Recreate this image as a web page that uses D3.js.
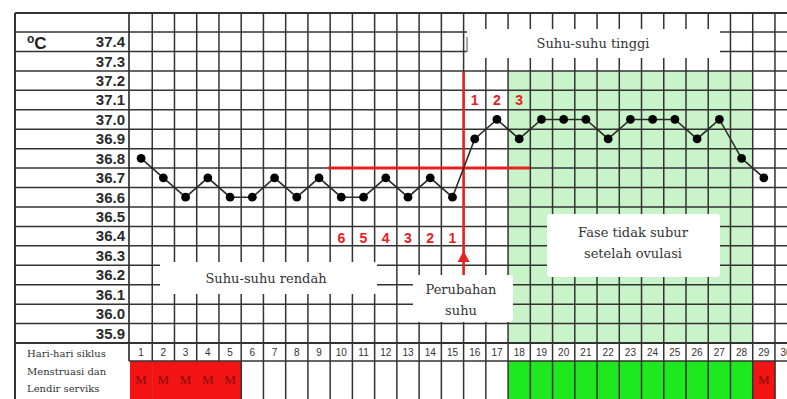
<!DOCTYPE html>
<html><head><meta charset="utf-8">
<script src="https://cdn.jsdelivr.net/npm/d3@7/dist/d3.min.js"></script>
<style>html,body{margin:0;padding:0;background:#fff;overflow:hidden}</style>
</head><body>
<svg id="c" width="787" height="399"></svg>
<script>
// ---- data ----
const days = [1,2,3,4,5,6,7,8,9,10,11,12,13,14,15,16,17,18,19,20,21,22,23,24,25,26,27,28,29,30];
const temps = [36.8,36.7,36.6,36.7,36.6,36.6,36.7,36.6,36.7,36.6,36.6,36.7,36.6,36.7,36.6,
               36.9,37.0,36.9,37.0,37.0,37.0,36.9,37.0,37.0,37.0,36.9,37.0,36.8,36.7];
const tempTicks = ["37.4","37.3","37.2","37.1","37.0","36.9","36.8","36.7","36.6","36.5","36.4","36.3","36.2","36.1","36.0","35.9"];
const mensDays = [1,2,3,4,5,29];
const infertileDays = [18,19,20,21,22,23,24,25,26,27,28];
const riseLabels = [{day:16,t:"1"},{day:17,t:"2"},{day:18,t:"3"}];
const lowLabels = [{day:10,t:"6"},{day:11,t:"5"},{day:12,t:"4"},{day:13,t:"3"},{day:14,t:"2"},{day:15,t:"1"}];
const rowLabels = ["Hari-hari siklus","Menstruasi dan","Lendir serviks"];

// ---- layout ----
const svg = d3.select("#c");
const colW = 22.24, x0 = 130;
const x = d3.scaleLinear().domain([0.5, 30.5]).range([x0, x0 + 30*colW]);
const yTop = 32, yBot = 343;
const y = d3.scaleLinear().domain([37.45, 35.85]).range([yTop, yBot]);
const frameL = 15, frameT = 13, labR = 129;
const dayRowB = 361, W = 787, H = 399;
const gridC = "#333";

// light green phase
svg.append("rect").attr("x", x(17.5)).attr("y", y(37.25)).attr("width", x(28.5)-x(17.5)).attr("height", y(35.85)-y(37.25)).attr("fill", "#c9f3c9");

// menstruation / infertile boxes
svg.selectAll("rect.m").data(mensDays).join("rect").attr("class","m")
  .attr("x", d=>x(d-0.5)).attr("y", dayRowB).attr("width", colW+0.5).attr("height", H-dayRowB).attr("fill","#f21414");
svg.selectAll("rect.g").data(infertileDays).join("rect").attr("class","g")
  .attr("x", d=>x(d-0.5)).attr("y", dayRowB).attr("width", colW).attr("height", H-dayRowB).attr("fill","#1ee81e");

const g = svg.append("g").attr("stroke", gridC).attr("stroke-width", 1.5).attr("fill","none");
// horizontal grid lines (row boundaries)
const bounds = tempTicks.map(t=>+t+0.05).concat([35.85]);
g.selectAll("line.h").data(bounds).join("line")
  .attr("x1", frameL).attr("x2", W).attr("y1", d=>y(d)).attr("y2", d=>y(d))
  .attr("stroke-width", (d,i)=> i===bounds.length-1 ? 2 : 1.5);
// top border
g.append("line").attr("x1", frameL).attr("x2", W).attr("y1", frameT).attr("y2", frameT).attr("stroke-width", 2);
// left border & label divider
g.append("line").attr("x1", frameL).attr("x2", frameL).attr("y1", frameT).attr("y2", H).attr("stroke-width", 2);
g.append("line").attr("x1", labR).attr("x2", labR).attr("y1", frameT).attr("y2", dayRowB).attr("stroke-width", 1.7);
// vertical column lines (no dividers inside the continuous red menstruation block)
const colB = days.map(d=>d+0.5);
g.selectAll("line.v").data(colB).join("line")
  .attr("x1", d=>x(d)).attr("x2", d=>x(d)).attr("y1", frameT)
  .attr("y2", d=> (d < 5) ? dayRowB : H);
// line below day numbers
g.append("line").attr("x1", labR).attr("x2", W).attr("y1", dayRowB).attr("y2", dayRowB);

// white annotation boxes
const boxes = [
  {x1:467, y1:29, x2:720, y2:58},
  {x1:160, y1:262, x2:377, y2:294},
  {x1:413, y1:275, x2:513, y2:322},
  {x1:547, y1:214, x2:720, y2:277}
];
svg.selectAll("rect.box").data(boxes).join("rect").attr("class","box")
  .attr("x", d=>d.x1).attr("y", d=>d.y1).attr("width", d=>d.x2-d.x1).attr("height", d=>d.y2-d.y1)
  .attr("fill","#fff").attr("rx", 3);
svg.append("line").attr("x1",467).attr("x2",467).attr("y1",37).attr("y2",52).attr("stroke","#888").attr("stroke-width",1.5);

// red cross lines
const red = "#e8201e";
svg.append("line").attr("x1", 328).attr("x2", 530).attr("y1", y(36.75)).attr("y2", y(36.75)).attr("stroke", red).attr("stroke-width", 3);
svg.append("line").attr("x1", x(15.5)).attr("x2", x(15.5)).attr("y1", y(37.25)+1).attr("y2", 275).attr("stroke", red).attr("stroke-width", 2.5);
svg.append("path").attr("d", `M${x(15.5)},251 L${x(15.5)-6},262 L${x(15.5)+6},262 Z`).attr("fill", red);

// temperature line and points
const pts = temps.map((t,i)=>({day:days[i], t}));
svg.append("path").datum(pts)
  .attr("d", d3.line().x(d=>x(d.day)).y(d=>y(d.t)))
  .attr("fill","none").attr("stroke","#2a2a2a").attr("stroke-width",1.6);
svg.selectAll("circle.p").data(pts).join("circle").attr("class","p")
  .attr("cx", d=>x(d.day)).attr("cy", d=>y(d.t)).attr("r", 4.4).attr("fill","#000");

// y labels
svg.selectAll("text.yl").data(tempTicks).join("text").attr("class","yl")
  .attr("x", 125).attr("y", d=>y(+d)).attr("dy","0.36em").attr("text-anchor","end")
  .attr("font-family","Liberation Sans, Arial, sans-serif").attr("font-weight","bold").attr("font-size",15)
  .attr("fill","#2a2a2a").text(d=>d);
const deg = svg.append("text").attr("x", 27).attr("y", 49).attr("font-family","Liberation Sans, Arial, sans-serif")
  .attr("font-weight","bold").attr("font-size",17).attr("fill","#1e1e1e");
deg.append("tspan").attr("font-size",12).attr("dy",-6).text("o");
deg.append("tspan").attr("dy",6).text("C");

// day numbers
svg.selectAll("text.dn").data(days).join("text").attr("class","dn")
  .attr("x", d=>x(d)).attr("y", 356).attr("text-anchor","middle")
  .attr("font-family","Liberation Sans, Arial, sans-serif").attr("font-size",10).attr("fill","#333").text(d=>d);

// M labels
svg.selectAll("text.mt").data(mensDays).join("text").attr("class","mt")
  .attr("x", d=>x(d)).attr("y", 384).attr("text-anchor","middle")
  .attr("font-family","Liberation Serif, Times New Roman, serif").attr("font-size",13).attr("fill","#8a0a0a").text("M");

// row labels
svg.selectAll("text.rl").data(rowLabels).join("text").attr("class","rl")
  .attr("x", 27).attr("y", (d,i)=>357+i*17.5)
  .attr("font-family","DejaVu Serif, serif").attr("font-size",10).attr("fill","#333").text(d=>d);

// red numbers
svg.selectAll("text.rise").data(riseLabels).join("text").attr("class","rise")
  .attr("x", d=>x(d.day)).attr("y", y(37.1)).attr("dy","0.36em").attr("text-anchor","middle")
  .attr("font-family","Liberation Sans, Arial, sans-serif").attr("font-weight","bold").attr("font-size",14).attr("fill",red).text(d=>d.t);
svg.selectAll("text.low").data(lowLabels).join("text").attr("class","low")
  .attr("x", d=>x(d.day)).attr("y", y(36.4)+2).attr("dy","0.36em").attr("text-anchor","middle")
  .attr("font-family","Liberation Sans, Arial, sans-serif").attr("font-weight","bold").attr("font-size",14).attr("fill",red).text(d=>d.t);

// annotation texts
const notes = [
  {x:593, y:48, t:"Suhu-suhu tinggi"},
  {x:266, y:283, t:"Suhu-suhu rendah"},
  {x:461, y:294, t:"Perubahan"},
  {x:461, y:315, t:"suhu"},
  {x:633, y:237, t:"Fase tidak subur"},
  {x:633, y:258, t:"setelah ovulasi"}
];
svg.selectAll("text.note").data(notes).join("text").attr("class","note")
  .attr("x", d=>d.x).attr("y", d=>d.y).attr("text-anchor","middle")
  .attr("font-family","DejaVu Serif, serif").attr("font-size",13).attr("fill","#333").text(d=>d.t);
</script>
</body></html>
